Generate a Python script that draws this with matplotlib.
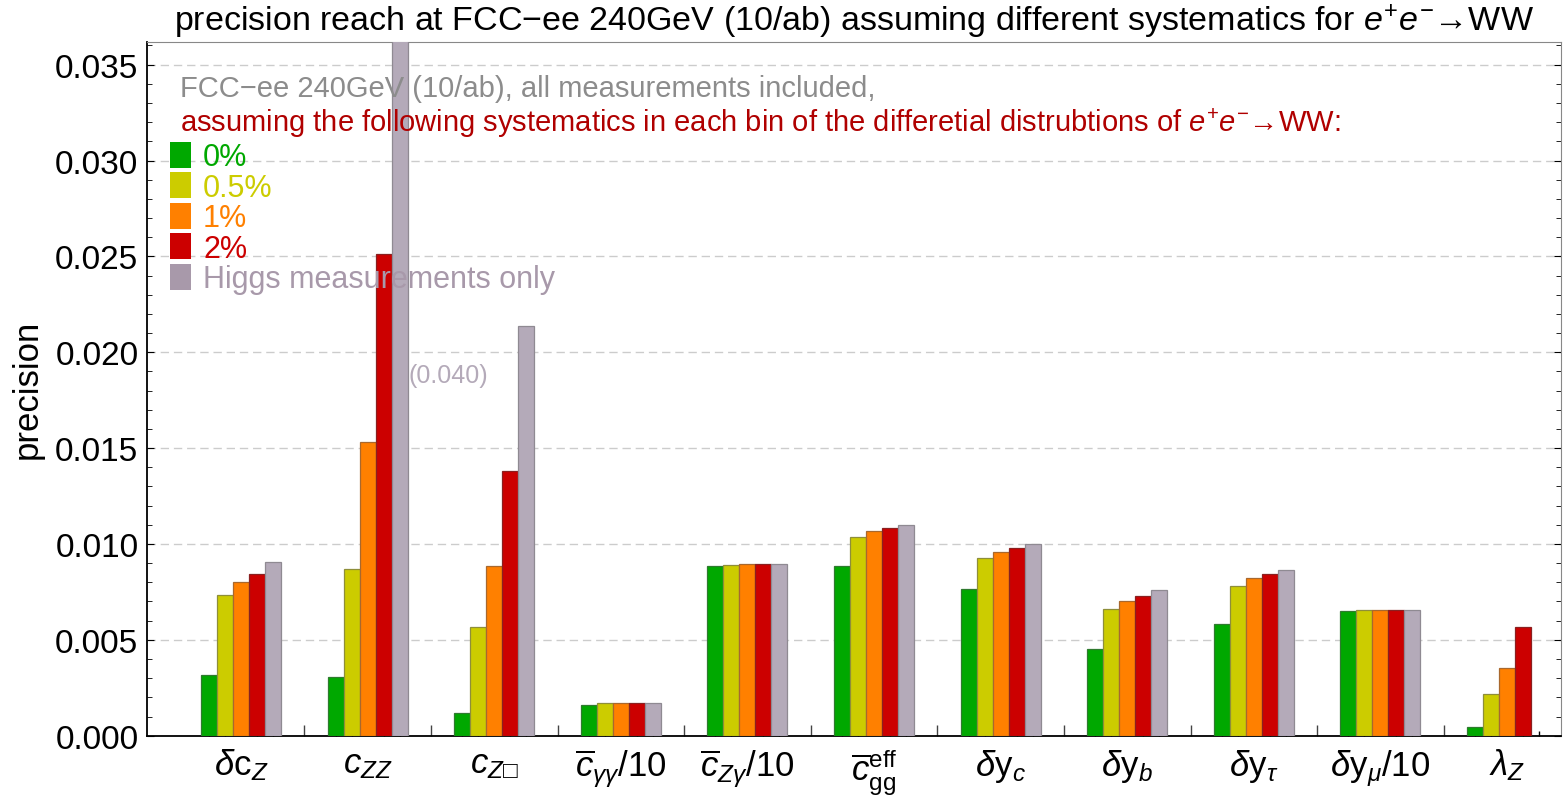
import matplotlib
matplotlib.use('Agg')
import matplotlib.pyplot as plt
import numpy as np
from matplotlib.patches import Rectangle
from matplotlib.ticker import MultipleLocator, FormatStrFormatter

plt.rcParams['font.family'] = ['Liberation Sans', 'DejaVu Sans']
plt.rcParams['mathtext.fontset'] = 'custom'
plt.rcParams['mathtext.rm'] = 'Liberation Sans'
plt.rcParams['mathtext.it'] = 'Liberation Sans:italic'
plt.rcParams['mathtext.bf'] = 'Liberation Sans:bold'

# coefficients (x axis)
coeffs = [r'$\delta\mathrm{c}_Z$', r'$c_{ZZ}$', '$c_{Z\u25a1}$',
          r'$\overline{c}_{\gamma\gamma}/10$', r'$\overline{c}_{Z\gamma}/10$',
          r'$\overline{c}_{\mathrm{gg}}^{\mathrm{eff}}$', r'$\delta\mathrm{y}_c$',
          r'$\delta\mathrm{y}_b$', r'$\delta\mathrm{y}_\tau$',
          r'$\delta\mathrm{y}_\mu/10$', r'$\lambda_Z$']

# precision for each systematics assumption
sys_0 = [0.00318, 0.00308, 0.00120, 0.00160, 0.00887, 0.00887, 0.00766, 0.00452, 0.00585, 0.00651, 0.00047]
sys_05 = [0.00733, 0.00870, 0.00566, 0.00169, 0.00892, 0.01035, 0.00927, 0.00661, 0.00783, 0.00654, 0.00219]
sys_1 = [0.00802, 0.01531, 0.00886, 0.00170, 0.00895, 0.01067, 0.00960, 0.00701, 0.00823, 0.00654, 0.00353]
sys_2 = [0.00844, 0.02514, 0.01380, 0.00170, 0.00895, 0.01082, 0.00978, 0.00728, 0.00842, 0.00654, 0.00566]
higgs_only = [0.00905, 0.040, 0.02137, 0.00170, 0.00898, 0.01100, 0.00999, 0.00760, 0.00865, 0.00654, np.nan]

series = [sys_0, sys_05, sys_1, sys_2, higgs_only]
labels = ['0%', '0.5%', '1%', '2%', 'Higgs measurements only']
colors = ['#00A800', '#CCCC00', '#FF8000', '#CC0000', '#B4AAB9']
edges = ['#2F7A2F', '#8E8E3A', '#A8682E', '#8A2020', '#8F8A92']
text_colors = ['#00A800', '#CCCC00', '#FF8000', '#CC0000', '#A899AA']

n = len(coeffs)
x = np.arange(n)
w = 0.1264

fig = plt.figure(figsize=(15.63, 8.03), dpi=100)
ax = fig.add_axes([0.0939, 0.0826, 0.9049, 0.8643])

for k, vals in enumerate(series):
    ax.bar(x + (k - 2) * w, vals, width=w, color=colors[k], edgecolor=edges[k],
           linewidth=0.9, zorder=3)

ax.set_xlim(-0.745, 10.427)
ax.set_ylim(0, 0.0362)

# y axis
ax.yaxis.set_major_locator(MultipleLocator(0.005))
ax.yaxis.set_minor_locator(MultipleLocator(0.001))
ax.yaxis.set_major_formatter(FormatStrFormatter('%.3f'))
ax.tick_params(axis='y', which='both', direction='in', left=True, right=True,
               labelsize=24, pad=6)
ax.tick_params(axis='y', which='major', length=5)
ax.tick_params(axis='y', which='minor', length=3.6)
ax.yaxis.grid(True, which='major', color='#CCCCCC', linestyle=(0, (6, 3.5)),
              linewidth=1, zorder=0)
ax.set_ylabel('precision', fontsize=25)
ax.yaxis.set_label_coords(-0.073, 0.5)

# x axis
ax.set_xticks(x, coeffs, fontsize=25)
ax.tick_params(axis='x', which='major', length=0, pad=8)
ax.set_xticks(np.concatenate([x + (k - 2) * w for k in range(5)]), minor=True)
ax.tick_params(axis='x', which='minor', direction='in', length=3.6, width=1)
sep = ax.secondary_xaxis('bottom')
sep.set_xticks(x[:-1] + 0.5)
sep.tick_params(direction='in', length=8, width=1, color='#444444', labelbottom=False)
sep.spines['bottom'].set_visible(False)

for s in ['left', 'bottom']:
    ax.spines[s].set_linewidth(1.3)
for s in ['top', 'right']:
    ax.spines[s].set_color('#888888')

# title
ax.text(0.5, 1.017, 'precision reach at FCC\u2212ee 240GeV (10/ab) assuming different '
        r'systematics for $e^{+}e^{-}$' + '\u2192WW',
        transform=ax.transAxes, ha='center', va='baseline', fontsize=24.5)

# annotations
ax.text(0.0235, 0.922, 'FCC\u2212ee 240GeV (10/ab), all measurements included,',
        transform=ax.transAxes, ha='left', va='baseline', fontsize=21, color='#8C8C8C')
ax.text(0.0235, 0.871, 'assuming the following systematics in each bin of the '
        r'differetial distrubtions of $e^{+}e^{-}$' + '\u2192WW:',
        transform=ax.transAxes, ha='left', va='baseline', fontsize=21, color='#B00000')

row_y = 0.8368
for k in range(5):
    yc = row_y - k * 0.04395
    ax.add_patch(Rectangle((0.0164, yc - 0.0187), 0.0149, 0.0375, transform=ax.transAxes,
                           facecolor=colors[k] if k < 4 else '#A899AA',
                           edgecolor='none', clip_on=False, zorder=5))
    ax.text(0.0398, yc - 0.015, labels[k], transform=ax.transAxes, ha='left',
            va='baseline', fontsize=22, color=text_colors[k], zorder=5)

ax.text(1 + 2.5 * w + 0.005, 0.01846, '(%.3f)' % higgs_only[1], ha='left', va='baseline',
        fontsize=18, color='#B4AAB9')

fig.savefig('out.png', dpi=100)
